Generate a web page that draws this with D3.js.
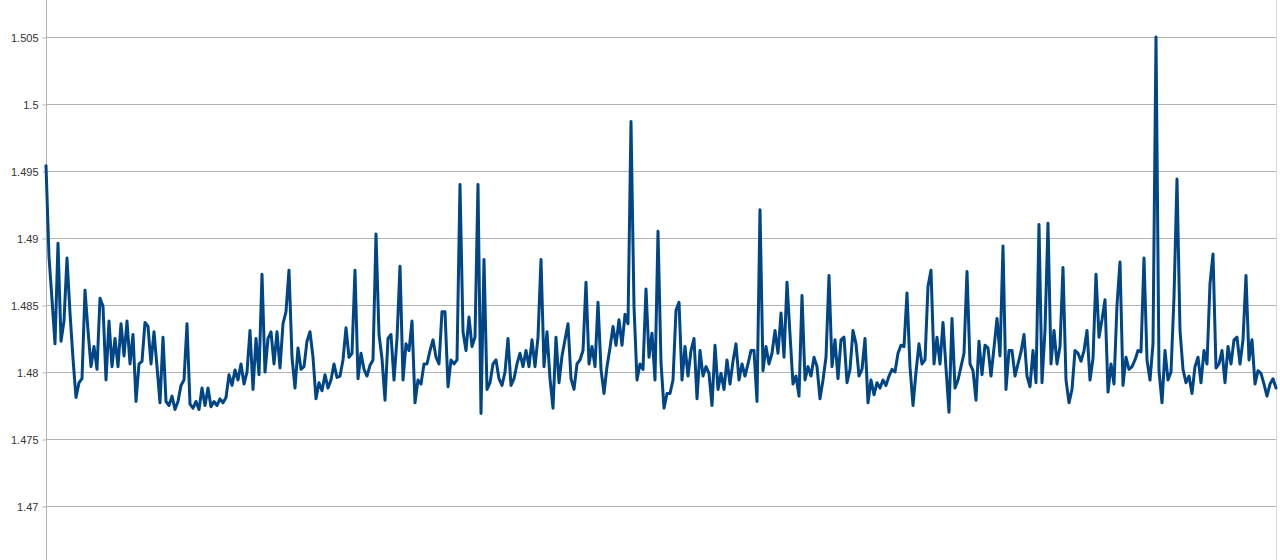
<!DOCTYPE html>
<html><head><meta charset="utf-8">
<script src="https://cdn.jsdelivr.net/npm/d3@7"></script>
<style>html,body{margin:0;padding:0;background:#fff;}svg{display:block;}</style>
</head><body>
<script>
const yTicks = [1.47, 1.475, 1.48, 1.485, 1.49, 1.495, 1.5, 1.505];
const values = [
1.4954,1.4886,1.4854,1.4821,1.4896,1.4823,1.4838,1.4885,1.4844,1.481,
1.4781,1.4792,1.4795,1.4861,1.4831,1.4804,1.4819,1.4802,1.4855,1.4849,
1.4794,1.4838,1.4804,1.4825,1.4804,1.4836,1.4812,1.4838,1.4806,1.4828,
1.4778,1.4806,1.4808,1.4837,1.4834,1.4806,1.483,1.4804,1.4777,1.4826,
1.4778,1.4775,1.4782,1.4772,1.4778,1.479,1.4794,1.4836,1.4776,1.4773,
1.4778,1.4772,1.4788,1.4775,1.4788,1.4774,1.4778,1.4775,1.478,1.4777,
1.4781,1.4798,1.479,1.48015,1.4794,1.4806,1.4791,1.48,
1.4831,1.4787,1.4825,1.4798,1.4873,1.48,1.4825,1.483,1.4806,1.483,
1.4803,1.4836,1.4845,1.4876,1.4811,1.4788,1.4818,1.4802,1.4804,1.4823,
1.483,1.4811,1.478,1.4792,1.4786,1.4798,1.4788,1.4794,1.4806,1.4796,
1.4797,1.4809,1.4833,1.4811,1.4814,1.4876,1.4795,1.4814,1.4802,1.4797,
1.4805,1.4809,1.4903,1.4828,1.481,1.4779,1.4825,1.4828,1.4794,1.4825,
1.4879,1.4794,1.4821,1.4816,1.4838,1.4777,1.4794,1.4791,1.4806,1.4806,
1.4816,1.4824,1.4811,1.4806,1.4845,1.4845,1.4789,1.4809,1.4806,
1.4809,1.494,1.483,1.4816,1.4841,1.4819,1.4826,1.494,1.4769,1.4884,
1.4787,1.4792,1.4806,1.4809,1.4795,1.479,1.48,1.4825,1.479,1.4795,
1.4806,1.4814,1.4804,1.4816,1.4804,1.4824,1.4804,1.4826,1.4884,1.4804,
1.483,1.4795,1.4773,1.4826,1.4792,1.4812,1.4824,1.4836,1.4795,1.4787,
1.4806,1.4809,1.4816,1.4867,1.4806,1.4819,1.4804,1.4852,1.4802,1.4784,
1.4804,1.4818,1.4834,1.482,1.4839,1.482,1.4843,1.4836,1.4987,1.4849,
1.4794,1.4806,1.4802,1.4862,1.4811,1.4829,1.4794,1.4905,
1.4807,1.4773,1.4784,1.4784,1.4794,1.4846,1.4852,1.4794,1.4819,1.4797,
1.4816,1.4825,1.478,1.4816,1.4797,1.4804,1.4799,1.4775,1.482,1.4787,
1.4799,1.4787,1.4809,1.4791,1.4808,1.4821,1.4794,1.4806,1.4797,1.4806,
1.4816,1.4816,1.4778,1.4921,1.4801,1.4819,1.4806,1.4814,1.4831,1.4814,
1.4844,1.4811,1.4867,1.4828,1.4791,1.4797,1.4782,1.4857,1.4794,1.4804,
1.4797,1.4811,1.4804,1.478,1.4794,1.4811,1.4872,1.4804,1.4824,1.4795,
1.4824,1.4826,1.4792,1.4802,1.4831,1.4821,1.4797,
1.4802,1.4825,1.4777,1.4794,1.4783,1.4792,1.4788,1.4794,1.479,1.4797,
1.4802,1.48,1.4814,1.482,1.4819,1.4859,1.4804,1.4775,1.48,1.4821,
1.4806,1.4809,1.4864,1.4876,1.4806,1.4826,1.4806,1.4837,1.4803,1.477,
1.484,1.4788,1.4794,1.4804,1.4814,1.4875,1.4806,1.4801,1.4779,1.4823,
1.4798,1.482,1.4818,1.4797,1.4818,1.484,1.4812,1.4894,1.4787,1.4816,
1.4816,1.4797,1.4806,1.4815,1.4828,1.4797,1.4789,1.4816,1.4792,1.491,
1.4792,1.4831,1.4911,1.4806,1.4831,1.4806,1.4819,1.4878,
1.4794,1.4777,1.4787,1.4816,1.4814,1.4808,1.4816,1.4831,1.4794,1.481,
1.4873,1.4826,1.4839,1.4854,1.4785,1.4806,1.4791,1.485,1.4882,1.479,
1.4811,1.4802,1.4804,1.4809,1.4816,1.4815,1.4885,1.4809,1.4794,1.4821,
1.505,1.4801,1.4777,1.4816,1.4794,1.48,1.4856,1.4944,1.4831,1.4802,
1.4792,1.4797,1.4784,1.4804,1.4811,1.4792,1.4816,1.4806,1.4866,1.4888,
1.4803,1.4806,1.4816,1.4792,1.4819,1.4806,1.4824,1.4826,1.4806,1.4824,
1.4872,1.4809,1.4824,1.4791,1.4801,1.4799,1.4791,1.4782,1.4791,1.4795,
1.4788
];
const categories = values.map((d, i) => i + 1);

const W = 1280, H = 560;
const left = 46, right = 1276;
const svg = d3.select("body").append("svg").attr("width", W).attr("height", H);

const x = d3.scaleLinear().domain([1, categories.length]).range([left, right]);
const y = d3.scaleLinear().domain([1.47, 1.505]).range([506, 37]);

// grid
svg.append("g").selectAll("line").data(yTicks).join("line")
  .attr("x1", left).attr("x2", right)
  .attr("y1", d => Math.round(y(d)) + 0.5).attr("y2", d => Math.round(y(d)) + 0.5)
  .attr("stroke", "#b3b3b3").attr("stroke-width", 1);

// right border
svg.append("line").attr("x1", right + 0.5).attr("x2", right + 0.5).attr("y1", 0).attr("y2", H)
  .attr("stroke", "#d9d9d9").attr("stroke-width", 1);

// y axis
const yAxis = d3.axisLeft(y).tickValues(yTicks).tickSize(4).tickPadding(4)
  .tickFormat(d => String(+d.toFixed(3)));
const ag = svg.append("g").attr("transform", `translate(${left + 0.5},0.5)`).call(yAxis);
ag.select(".domain").remove();
ag.selectAll(".tick line").attr("stroke", "#b3b3b3");
ag.selectAll(".tick text").attr("fill", "#333").style("font-family", "'Liberation Sans', Arial, sans-serif").style("font-size", "11px");
svg.append("line").attr("x1", left + 0.5).attr("x2", left + 0.5).attr("y1", 0).attr("y2", H)
  .attr("stroke", "#b3b3b3").attr("stroke-width", 1);

// series
const line = d3.line().x((d, i) => x(categories[i])).y(d => y(d));
svg.append("path").datum(values)
  .attr("fill", "none").attr("stroke", "#004586").attr("stroke-width", 3)
  .attr("stroke-linejoin", "round").attr("stroke-linecap", "round")
  .attr("d", line);
</script>
</body></html>
